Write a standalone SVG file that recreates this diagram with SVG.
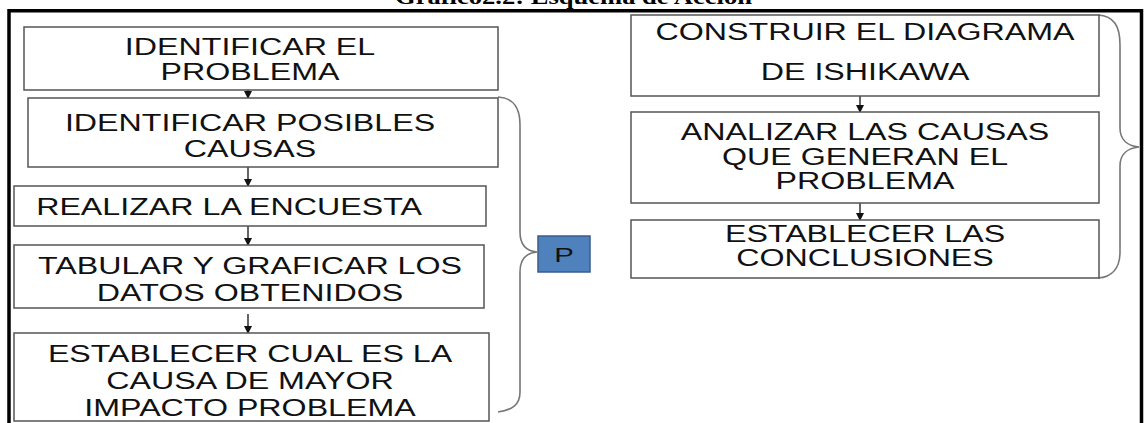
<svg xmlns="http://www.w3.org/2000/svg" width="1147" height="423" viewBox="0 0 1147 423">
<style>
.box{fill:#fff;stroke:#555;stroke-width:1.5}
.t{font-family:"Liberation Sans",Arial,sans-serif;font-size:23px;fill:#111;text-anchor:middle}
.ar{stroke:#111;stroke-width:1.3;fill:none;marker-end:url(#ah)}
.br{stroke:#777;stroke-width:1.6;fill:none}
.title{font-family:"Liberation Serif","Times New Roman",serif;font-weight:bold;font-size:22px;fill:#000}
</style>
<defs>
<marker id="ah" markerWidth="8" markerHeight="8" refX="7" refY="4" orient="auto" markerUnits="userSpaceOnUse">
<path d="M0,0 L8,4 L0,8 Z" fill="#111"/>
</marker>
</defs>
<rect width="1147" height="423" fill="#fff"/>
<text class="title" x="395" y="4" textLength="357" lengthAdjust="spacingAndGlyphs">Gráfico2.2: Esquema de Acción</text>
<rect x="9" y="10.75" width="1132.5" height="420" fill="none" stroke="#000" stroke-width="3.5"/>

<g id="connectors">
<line class="ar" x1="248" y1="90" x2="248" y2="98"/>
<line class="ar" x1="248" y1="167" x2="248" y2="186"/>
<line class="ar" x1="248" y1="226" x2="248" y2="245"/>
<line class="ar" x1="248" y1="314" x2="248" y2="333"/>
<line class="ar" x1="860" y1="96" x2="860" y2="112"/>
<line class="ar" x1="860" y1="176" x2="860" y2="220"/>
<path class="br" d="M498,97 C514,98 520,108 520,125 L520,232 C520,245 526,251 537,252 C526,253 520,259 520,272 L520,392 C520,405 512,410 498,412"/>
<path class="br" d="M1098,15 C1114,16 1120,26 1120,45 L1120,128 C1120,140 1128,146 1139,147 C1128,148 1120,154 1120,166 L1120,252 C1120,268 1112,277 1098,278"/>
</g>

<g id="n1">
<rect class="box" x="24" y="27" width="474" height="63"/>
<text class="t" transform="scale(1.4 1)" x="178.6" y="55">IDENTIFICAR EL</text>
<text class="t" transform="scale(1.4 1)" x="178.6" y="80">PROBLEMA</text>
</g>
<g id="n2">
<rect class="box" x="28" y="98" width="470" height="69"/>
<text class="t" transform="scale(1.4 1)" x="178.6" y="131">IDENTIFICAR POSIBLES</text>
<text class="t" transform="scale(1.4 1)" x="178.6" y="157">CAUSAS</text>
</g>
<g id="n3">
<rect class="box" x="14" y="186" width="472" height="40"/>
<text class="t" transform="scale(1.4 1)" x="163.6" y="215">REALIZAR LA ENCUESTA</text>
</g>
<g id="n4">
<rect class="box" x="14" y="245" width="470" height="63"/>
<text class="t" transform="scale(1.4 1)" x="178.6" y="274">TABULAR Y GRAFICAR LOS</text>
<text class="t" transform="scale(1.4 1)" x="178.6" y="301">DATOS OBTENIDOS</text>
</g>
<g id="n5">
<rect class="box" x="14" y="333" width="475" height="88"/>
<text class="t" transform="scale(1.4 1)" x="178.6" y="362">ESTABLECER CUAL ES LA</text>
<text class="t" transform="scale(1.4 1)" x="178.6" y="389">CAUSA DE MAYOR</text>
<text class="t" transform="scale(1.4 1)" x="178.6" y="416">IMPACTO PROBLEMA</text>
</g>
<g id="nP">
<rect x="538" y="236" width="52" height="36" fill="#4F81BD" stroke="#385D8A" stroke-width="1.5"/>
<text class="t" transform="scale(1.4 1)" x="402.9" y="262" style="font-size:21px">P</text>
</g>
<g id="n6">
<rect class="box" x="631" y="15" width="468" height="81"/>
<text class="t" transform="scale(1.4 1)" x="617.9" y="40">CONSTRUIR EL DIAGRAMA</text>
<text class="t" transform="scale(1.4 1)" x="617.9" y="80">DE ISHIKAWA</text>
</g>
<g id="n7">
<rect class="box" x="631" y="112" width="468" height="91"/>
<text class="t" transform="scale(1.4 1)" x="617.9" y="140">ANALIZAR LAS CAUSAS</text>
<text class="t" transform="scale(1.4 1)" x="617.9" y="165">QUE GENERAN EL</text>
<text class="t" transform="scale(1.4 1)" x="617.9" y="189">PROBLEMA</text>
</g>
<g id="n8">
<rect class="box" x="631" y="220" width="468" height="58"/>
<text class="t" transform="scale(1.4 1)" x="617.9" y="242">ESTABLECER LAS</text>
<text class="t" transform="scale(1.4 1)" x="617.9" y="266">CONCLUSIONES</text>
</g>
</svg>
